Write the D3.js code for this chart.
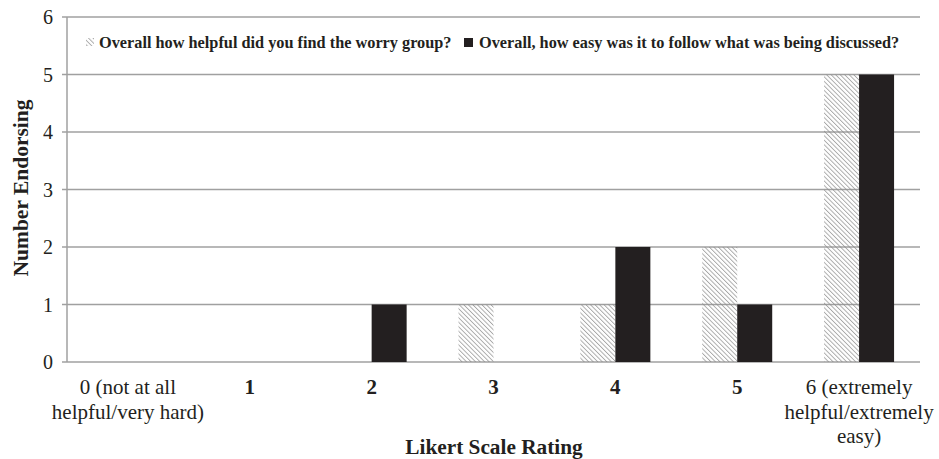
<!DOCTYPE html>
<html>
<head>
<meta charset="utf-8">
<script src="https://cdn.jsdelivr.net/npm/d3@7"></script>
<style>
  body { margin: 0; background: #fff; }
  text { font-family: "Liberation Serif", "Times New Roman", serif; }
</style>
</head>
<body>
<svg width="939" height="459"></svg>
<script>
var categories = ["0", "1", "2", "3", "4", "5", "6"];
var tickLabels = [
  ["0 (not at all", "helpful/very hard)"],
  ["1"], ["2"], ["3"], ["4"], ["5"],
  ["6 (extremely", "helpful/extremely", "easy)"]
];
var boldTick = [false, true, true, true, true, true, false];
var helpful = [0, 0, 0, 1, 1, 2, 5];
var easy = [0, 0, 1, 0, 2, 1, 5];
var seriesNames = ["Overall how helpful did you find the worry group?",
                   "Overall, how easy was it to follow what was being discussed?"];
var yTicks = [0, 1, 2, 3, 4, 5, 6];

var svg = d3.select("svg");
var mLeft = 67, mRight = 920, mTop = 17, mBottom = 362;

var x = d3.scaleBand().domain(categories).range([mLeft, mRight]);
var y = d3.scaleLinear().domain([0, 6]).range([mBottom, mTop]);

var defs = svg.append("defs");
var pat = defs.append("pattern")
  .attr("id", "hatch")
  .attr("patternUnits", "userSpaceOnUse")
  .attr("width", 3.2).attr("height", 3.2)
  .attr("patternTransform", "rotate(-45)");
pat.append("line")
  .attr("x1", 0.5).attr("y1", 0).attr("x2", 0.5).attr("y2", 3.2)
  .attr("stroke", "#8a8a8a").attr("stroke-width", 0.7);

// gridlines
svg.append("g").selectAll("line")
  .data(yTicks)
  .enter().append("line")
  .attr("x1", mLeft - 5).attr("x2", mRight)
  .attr("y1", function (d) { return y(d); })
  .attr("y2", function (d) { return y(d); })
  .attr("stroke", "#a0a0a0").attr("stroke-width", 1.5);

// y axis line
svg.append("line")
  .attr("x1", mLeft).attr("x2", mLeft)
  .attr("y1", mTop).attr("y2", mBottom)
  .attr("stroke", "#a0a0a0").attr("stroke-width", 1.5);

svg.append("g").selectAll("text")
  .data(yTicks)
  .enter().append("text")
  .attr("x", mLeft - 14)
  .attr("y", function (d) { return y(d) + 7; })
  .attr("text-anchor", "end")
  .attr("font-size", "20px")
  .attr("fill", "#231f20")
  .text(function (d) { return d; });

var bw = 35;
var g = svg.append("g");

helpful.forEach(function (d, i) {
  if (d > 0) {
    g.append("rect")
      .attr("x", x(categories[i]) + x.bandwidth() / 2 - bw)
      .attr("y", y(d))
      .attr("width", bw)
      .attr("height", y(0) - y(d))
      .attr("fill", "url(#hatch)");
  }
});
easy.forEach(function (d, i) {
  if (d > 0) {
    g.append("rect")
      .attr("x", x(categories[i]) + x.bandwidth() / 2)
      .attr("y", y(d))
      .attr("width", bw)
      .attr("height", y(0) - y(d))
      .attr("fill", "#231f20");
  }
});

// x tick labels
tickLabels.forEach(function (lines, i) {
  var t = svg.append("text")
    .attr("x", x(categories[i]) + x.bandwidth() / 2)
    .attr("y", 394)
    .attr("text-anchor", "middle")
    .attr("font-size", "21px")
    .attr("font-weight", boldTick[i] ? "bold" : "normal")
    .attr("fill", "#231f20");
  lines.forEach(function (s, j) {
    t.append("tspan")
      .attr("x", x(categories[i]) + x.bandwidth() / 2)
      .attr("dy", j == 0 ? 0 : 24.5)
      .text(s);
  });
});

// axis titles
svg.append("text")
  .attr("x", 494)
  .attr("y", 454)
  .attr("text-anchor", "middle")
  .attr("font-size", "21.3px")
  .attr("font-weight", "bold")
  .attr("fill", "#231f20")
  .text("Likert Scale Rating");

svg.append("text")
  .attr("transform", "translate(28,188) rotate(-90)")
  .attr("text-anchor", "middle")
  .attr("font-size", "21.5px")
  .attr("font-weight", "bold")
  .attr("fill", "#231f20")
  .text("Number Endorsing");

// legend
var leg = svg.append("g");
leg.append("rect")
  .attr("x", 86).attr("y", 38).attr("width", 8).attr("height", 8)
  .attr("fill", "url(#hatch)");
leg.append("text")
  .attr("x", 99).attr("y", 48)
  .attr("font-size", "16.3px")
  .attr("font-weight", "bold")
  .attr("fill", "#231f20")
  .text(seriesNames[0]);
leg.append("rect")
  .attr("x", 464).attr("y", 38).attr("width", 9).attr("height", 9)
  .attr("fill", "#231f20");
leg.append("text")
  .attr("x", 479).attr("y", 48)
  .attr("font-size", "16.3px")
  .attr("font-weight", "bold")
  .attr("fill", "#231f20")
  .text(seriesNames[1]);
</script>
</body>
</html>
